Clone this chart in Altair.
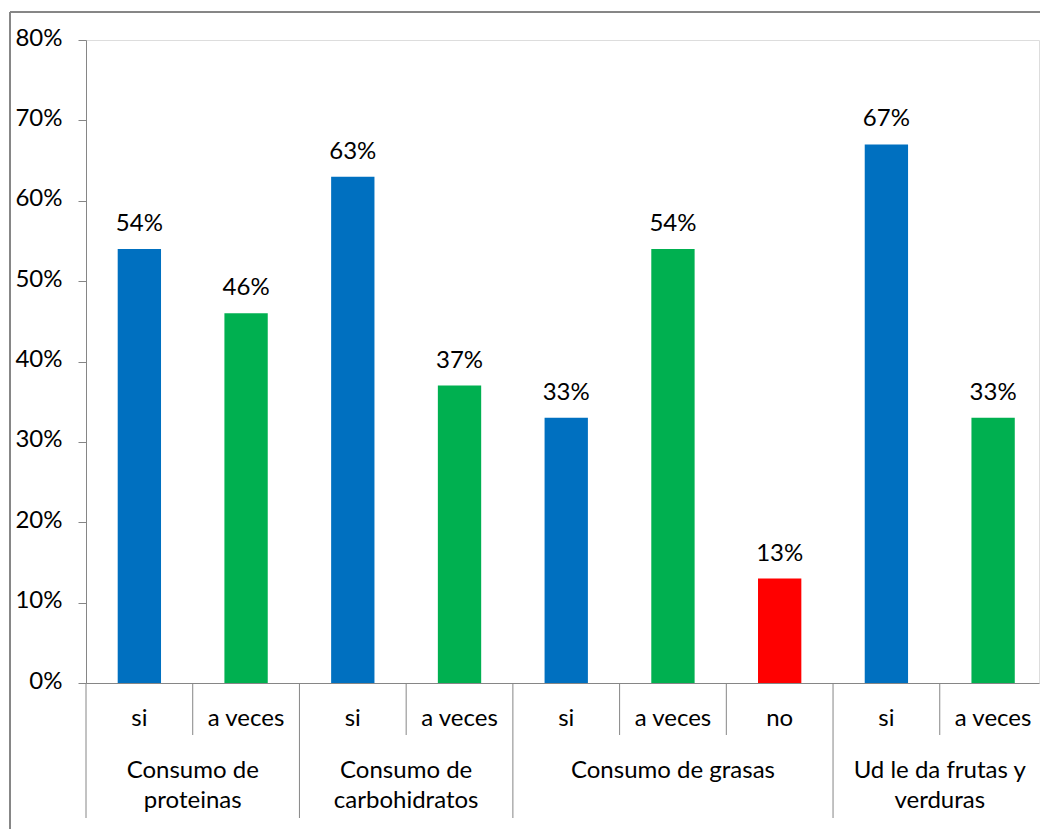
import altair as alt
import pandas as pd

# ---- data ----
groups = ["Consumo de\nproteinas", "Consumo de\ncarbohidratos", "Consumo de grasas", "Ud le da frutas y\nverduras"]
group_sizes = [2, 2, 3, 2]
answers = ["si", "a veces", "si", "a veces", "si", "a veces", "no", "si", "a veces"]
values = [0.54, 0.46, 0.63, 0.37, 0.33, 0.54, 0.13, 0.67, 0.33]
y_ticks = [0, 0.1, 0.2, 0.3, 0.4, 0.5, 0.6, 0.7, 0.8]
answer_order = ["si", "a veces", "no"]
answer_colors = ["#0070C0", "#00B050", "#FF0000"]

FONT = "Lato"
FS = 24
GRAY = "#868686"
W, H = 953, 643

bars = pd.DataFrame({"idx": list(range(len(values))), "answer": answers, "value": values})

g_rows = []
start = 0
for g, n in zip(groups, group_sizes):
    g_rows.append({"label": g, "start": start, "end": start + n})
    start += n
gdf = pd.DataFrame(g_rows)

n_items = len(values)
group_starts = [r["start"] for r in g_rows]
sub_bounds = pd.DataFrame({"pos": [i for i in range(1, n_items) if i not in group_starts]})
grp_bounds = pd.DataFrame({"pos": group_starts})

# the original plot area runs slightly past the right edge of the picture
xscale = alt.Scale(domain=[0, 8.93], nice=False, zero=False)
yscale = alt.Scale(domain=[0, 0.8], nice=False)

base = alt.Chart(bars).transform_calculate(
    x0="datum.idx + 0.297", x1="datum.idx + 0.703", xc="datum.idx + 0.5"
)

bar_layer = base.mark_bar().encode(
    x=alt.X("x0:Q", scale=xscale,
            axis=alt.Axis(labels=False, ticks=False, title=None, grid=False,
                          domainColor=GRAY, domainWidth=1)),
    x2="x1:Q",
    y=alt.Y("value:Q", scale=yscale,
            axis=alt.Axis(values=y_ticks, format=".0%", title=None, grid=False,
                          tickSize=8, labelPadding=16, labelOffset=-2, domainColor=GRAY, tickColor=GRAY,
                          labelFont=FONT, labelFontSize=FS, labelColor="black")),
    y2=alt.datum(0),
    color=alt.Color("answer:N", scale=alt.Scale(domain=answer_order, range=answer_colors), legend=None),
)

val_labels = base.mark_text(font=FONT, fontSize=FS, color="black", baseline="alphabetic", dy=-18).encode(
    x=alt.X("xc:Q", scale=xscale), y=alt.Y("value:Q", scale=yscale), text=alt.Text("value:Q", format=".0%")
)

sub_labels = base.mark_text(font=FONT, fontSize=FS, color="black", baseline="middle").encode(
    x=alt.X("xc:Q", scale=xscale), y=alt.value(679), text="answer:N"
)

sub_rules = alt.Chart(sub_bounds).mark_rule(color=GRAY, strokeWidth=1).encode(
    x=alt.X("pos:Q", scale=xscale), y=alt.value(H), y2=alt.value(H + 52)
)
grp_rules = alt.Chart(grp_bounds).mark_rule(color=GRAY, strokeWidth=1).encode(
    x=alt.X("pos:Q", scale=xscale), y=alt.value(H), y2=alt.value(H + 135)
)

grp_labels = alt.Chart(gdf).transform_calculate(gc="(datum.start + datum.end) / 2").mark_text(
    font=FONT, fontSize=FS, color="black", baseline="top", lineBreak="\n", lineHeight=30
).encode(x=alt.X("gc:Q", scale=xscale), y=alt.value(719), text="label:N")

frame_top = alt.Chart(bars).mark_rule(color=GRAY, strokeWidth=1).encode(
    x=alt.value(-76), x2=alt.value(W + 10), y=alt.value(-28)
)
frame_left = alt.Chart(bars).mark_rule(color=GRAY, strokeWidth=1).encode(
    x=alt.value(-76), y=alt.value(-28), y2=alt.value(H + 160)
)

chart = alt.layer(
    frame_top, frame_left, bar_layer, val_labels, sub_labels, sub_rules, grp_rules, grp_labels
).properties(
    width=W, height=H, autosize=alt.AutoSizeParams(type="none"),
    padding={"left": 86, "top": 40, "right": 1, "bottom": 146},
).configure_view(stroke=None).configure(background="white")

chart.save("out.html", embed_options={"renderer": "svg", "actions": False})
